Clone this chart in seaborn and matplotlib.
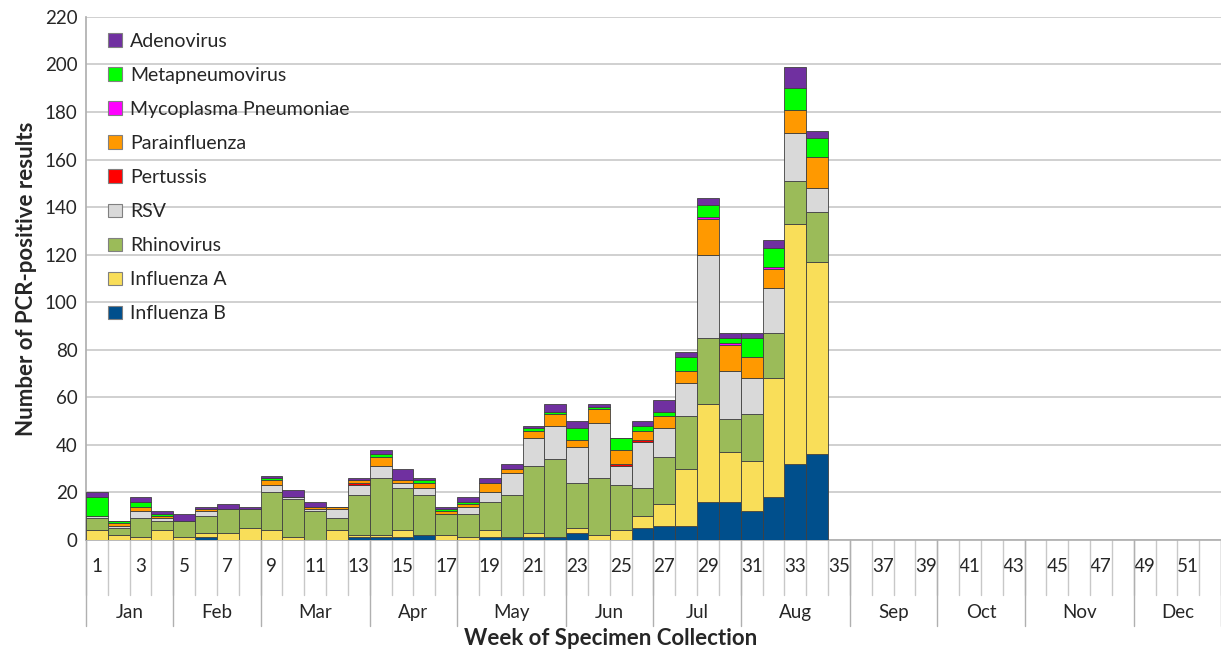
import matplotlib
matplotlib.use("Agg")
import matplotlib.pyplot as plt
from matplotlib.patches import Patch
import matplotlib.transforms as mtransforms
import pandas as pd
import seaborn as sns

# Weekly PCR-positive counts, weeks 1-34 (stack order bottom -> top)
weeks = list(range(1, 35))
influenza_b = [0, 0, 0, 0, 0, 1, 0, 0, 0, 0, 0, 0, 1, 1, 1, 2, 0, 0, 1, 1, 1, 1,
               3, 0, 0, 5, 6, 6, 16, 16, 12, 18, 32, 36]
influenza_a = [4, 2, 1, 4, 1, 2, 3, 5, 4, 1, 0, 4, 1, 1, 3, 0, 2, 1, 3, 0, 2, 0,
               2, 2, 4, 5, 9, 24, 41, 21, 21, 50, 101, 81]
rhinovirus = [5, 3, 8, 4, 7, 7, 10, 8, 16, 16, 12, 5, 17, 24, 18, 17, 9, 10, 12, 18, 28, 33,
              19, 24, 19, 12, 20, 22, 28, 14, 20, 19, 18, 21]
rsv = [1, 1, 3, 1, 0, 2, 0, 0, 3, 1, 1, 4, 4, 5, 2, 3, 0, 3, 4, 9, 12, 14,
       15, 23, 8, 19, 12, 14, 35, 20, 15, 19, 20, 10]
pertussis = [0, 0, 0, 0, 0, 0, 0, 0, 0, 0, 0, 0, 1, 0, 0, 0, 0, 0, 0, 0, 0, 0,
             0, 0, 1, 1, 0, 0, 0, 0, 0, 0, 0, 0]
parainfluenza = [0, 1, 2, 1, 0, 1, 0, 0, 2, 0, 1, 1, 1, 4, 1, 2, 1, 1, 4, 2, 3, 5,
                 3, 6, 6, 4, 5, 5, 15, 11, 9, 8, 10, 13]
mycoplasma = [0, 0, 0, 0, 0, 0, 0, 0, 0, 0, 0, 0, 0, 0, 0, 0, 0, 0, 0, 0, 0, 0,
              0, 0, 0, 0, 0, 0, 1, 1, 0, 1, 0, 0]
metapneumovirus = [8, 1, 2, 1, 0, 0, 0, 0, 1, 0, 0, 0, 0, 1, 0, 1, 1, 1, 0, 0, 1, 1,
                   5, 1, 5, 2, 2, 6, 5, 2, 8, 8, 9, 8]
adenovirus = [2, 0, 2, 1, 3, 1, 2, 1, 1, 3, 2, 0, 1, 2, 5, 1, 1, 2, 2, 2, 1, 3,
              3, 1, 0, 2, 5, 2, 3, 2, 2, 3, 9, 3]

# legend order (top of stack first)
pathogens = ["Adenovirus", "Metapneumovirus", "Mycoplasma Pneumoniae", "Parainfluenza",
             "Pertussis", "RSV", "Rhinovirus", "Influenza A", "Influenza B"]
colors = ["#7030A0", "#00FF00", "#FF00FF", "#FF9900", "#FF0000",
          "#D9D9D9", "#9BBB59", "#F9DE59", "#004F8C"]

months = ["Jan", "Feb", "Mar", "Apr", "May", "Jun", "Jul", "Aug", "Sep", "Oct", "Nov", "Dec"]
month_weeks = [4, 4, 5, 4, 5, 4, 4, 5, 4, 4, 5, 4]
n_weeks = 52

series = {
    "Adenovirus": adenovirus,
    "Metapneumovirus": metapneumovirus,
    "Mycoplasma Pneumoniae": mycoplasma,
    "Parainfluenza": parainfluenza,
    "Pertussis": pertussis,
    "RSV": rsv,
    "Rhinovirus": rhinovirus,
    "Influenza A": influenza_a,
    "Influenza B": influenza_b,
}
rows = []
for name, vals in series.items():
    for w, v in zip(weeks, vals):
        rows.append({"week": w, "pathogen": name, "count": v})
df = pd.DataFrame(rows)

sns.set_theme(style="white")
plt.rcParams["font.family"] = ["Lato", "DejaVu Sans"]

fig = plt.figure(figsize=(12.21, 6.52), dpi=100)
ax = fig.add_axes([0.0704, 0.172, 0.9296, 0.802])

palette = dict(zip(pathogens, colors))
sns.histplot(
    data=df, x="week", weights="count", hue="pathogen",
    hue_order=pathogens, palette=palette, multiple="stack",
    discrete=True, shrink=1.0, alpha=1, edgecolor="#404040",
    linewidth=0.6, legend=False, ax=ax, zorder=3,
)

ax.set_xlim(0.5, n_weeks + 0.5)
ax.set_ylim(0, 220)
ax.set_yticks(range(0, 221, 20))
ax.tick_params(axis="y", labelsize=13.5, length=0, pad=6)
ax.yaxis.grid(True, color="#C8C8C8", linewidth=1.2)
ax.set_axisbelow(True)
for s in ["top", "right"]:
    ax.spines[s].set_visible(False)
ax.spines["left"].set_color("#B0B0B0")
ax.spines["bottom"].set_color("#B0B0B0")
ax.set_ylabel("Number of PCR-positive results", fontsize=16, fontweight="bold", labelpad=6)

# two-level category axis: week numbers and months
ax.set_xticks(range(1, n_weeks + 1, 2))
ax.set_xticklabels([str(w) for w in range(1, n_weeks + 1, 2)], fontsize=13.5)
ax.tick_params(axis="x", length=0, pad=13)
ax.set_xlabel("")

trans = mtransforms.blended_transform_factory(ax.transData, ax.transAxes)
for k in range(n_weeks + 1):
    ax.plot([k + 0.5, k + 0.5], [0, -0.105], transform=trans, color="#C8C8C8",
            linewidth=1, clip_on=False)
start = 0.5
for name, n in zip(months, month_weeks):
    ax.plot([start, start], [0, -0.165], transform=trans, color="#B0B0B0",
            linewidth=1, clip_on=False)
    ax.text(start + n / 2, -0.138, name, transform=trans, ha="center", va="center",
            fontsize=13.5)
    start += n
ax.plot([start, start], [0, -0.165], transform=trans, color="#B0B0B0",
        linewidth=1, clip_on=False)

fig.text(0.5, 0.004, "Week of Specimen Collection", ha="center", va="bottom",
         fontsize=16, fontweight="bold")

handles = [Patch(facecolor=c, edgecolor="#808080", linewidth=0.8) for c in colors]
ax.legend(handles, pathogens, loc="upper left", bbox_to_anchor=(0.013, 0.985),
          frameon=False, fontsize=14, handlelength=0.7, handleheight=0.7,
          handletextpad=0.4, labelspacing=0.88, borderaxespad=0)

fig.savefig("out.png", dpi=100)
